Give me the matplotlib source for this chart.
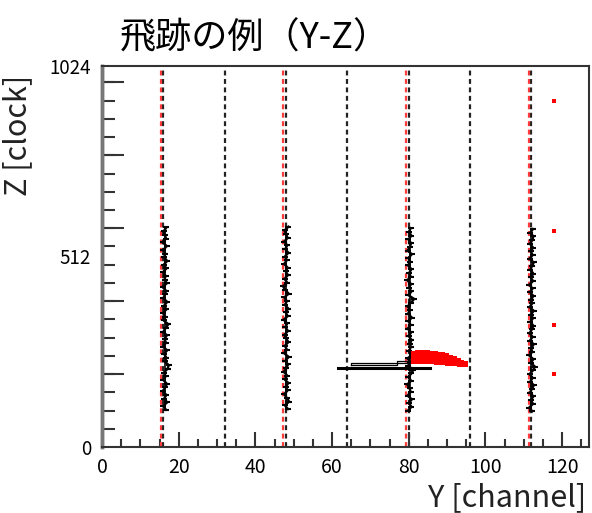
import numpy as np
import matplotlib
matplotlib.use('Agg')
from matplotlib import pyplot as plt

plt.rcParams['font.family'] = ['Noto Sans CJK JP', 'DejaVu Sans']

# wire boundaries (black) and shifted guides (red)
wire_lines = [16, 32, 48, 64, 80, 96, 112]
red_lines = [15.3, 47.3, 79.3, 111.3]

# tracks: centre channel, first clock, clock step, channel offsets
step = 10
trk1_x, trk1_z0 = 16.4, 100
trk1 = [0.3, -0.5, 0.6, -0.2, 0.4, -0.6, 0.1, 0.5, -0.4, 0.2,
        -0.3, 0.7, 1.0, 0.0, 0.4, -0.2, 0.6, -0.6, 0.3, -0.1,
        0.5, -0.4, 0.2, 0.9, -0.3, 0.1, -0.5, 0.4, -0.2, 0.6,
        -0.4, 0.0, 0.3, -0.6, 0.5, -0.1, 0.2, -0.5, 0.4, -0.3,
        0.6, -0.2, 0.1, -0.4, 0.5, -0.6, 0.3, 0.0, -0.3, 0.4]
trk2_x, trk2_z0 = 48.0, 102
trk2 = [0.5, -0.3, 0.8, 0.2, -0.5, 0.4, -0.1, 0.6, -0.4, 0.3,
        -0.6, 0.1, 0.5, -0.2, 0.7, -0.5, 0.2, -0.3, 0.6, 0.0,
        -0.4, 0.5, -0.2, 0.3, -0.6, 0.4, -0.1, 0.6, -0.3, 0.2,
        -0.5, 0.7, -0.2, -0.8, 0.3, -0.4, 0.5, -0.1, 0.4, -0.5,
        0.2, -0.3, 0.6, -0.2, 0.3, -0.5, 0.4, 0.0, -0.4, 0.6]
trk3_x, trk3_z0 = 80.2, 98
trk3 = [-0.4, 0.5, -0.2, 0.6, -0.5, 0.3, 0.0, -0.6, 0.4, -0.3,
        0.5, 1.0, -0.4, 0.2, -0.5, 0.6, -0.1, 0.3, 0.2, 0.5,
        -0.2, 0.4, -0.5, 0.3, -0.3, 0.6, -0.4, 0.1, -0.5, 0.4,
        1.2, -0.3, 0.5, -0.2, 0.4, -0.6, 0.3, -0.1, 0.5, -0.4,
        0.2, -0.3, 0.6, -0.5, 0.1, 0.4, -0.3, 0.5, -0.2, 0.3]
trk4_x, trk4_z0 = 112.0, 96
trk4 = [0.2, -0.6, 0.4, -0.2, 0.5, -0.4, 0.1, 0.6, -0.3, 0.3,
        -0.5, 0.4, 0.9, -0.2, 0.5, -0.6, 0.2, -0.1, 0.6, -0.4,
        0.3, -0.5, 0.1, 0.5, -0.3, 0.4, -0.2, 0.6, -0.5, 0.2,
        -0.1, 0.5, -0.4, 0.3, -0.6, 0.4, -0.2, 0.5, -0.3, 0.1,
        0.6, -0.5, 0.3, -0.2, 0.4, -0.4, 0.2, 0.5, -0.3, 0.4]

# horizontal hits near the third track
hit_low_x = [61.5, 85.5]
hit_low_z = [213, 213]
hit_box_x = [65.0, 77.0, 77.0, 80.5, 80.5, 77.0, 77.0, 65.0, 65.0]
hit_box_z = [220, 220, 226, 226, 231, 231, 226, 226, 220]

# red cluster (bins of one channel)
blob_ch = [81, 82, 83, 84, 85, 86, 87, 88, 89, 90, 91, 92, 93, 94, 95]
blob_top = [258, 262, 262, 261, 260, 258, 257, 256, 255, 252, 248, 244, 240, 235, 230]
blob_bot = [222, 224, 224, 223, 223, 222, 221, 220, 220, 219, 218, 217, 216, 215, 215]

# isolated red hits
dots_ch = [118, 118, 118, 118]
dots_z = [930, 580, 328, 196]

fig = plt.figure(figsize=(5.92, 5.13), dpi=100)
ax = fig.add_axes([102/592, 1-447/513, 487/592, 381/513])

for x in wire_lines:
    ax.axvline(x, color='#222222', ls=(0, (2.2, 1.6)), lw=1.6, zorder=1)
for x in red_lines:
    ax.axvline(x, color='#ff3b3b', ls=(0, (2.2, 1.6)), lw=1.6, zorder=2)

for cx, z0, offs in [(trk1_x, trk1_z0, trk1), (trk2_x, trk2_z0, trk2),
                     (trk3_x, trk3_z0, trk3), (trk4_x, trk4_z0, trk4)]:
    z = np.arange(z0, z0 + step*len(offs), step)
    xs = cx + np.array(offs)
    ax.plot(xs, z, color='black', lw=1.7, zorder=3)
    ax.plot(xs, z, ls='none', marker='_', ms=4, mew=1.5, color='black', zorder=3)
    ax.plot(np.full(len(z), cx), z, color='black', lw=1.2, zorder=3)

ax.plot(hit_low_x, hit_low_z, color='black', lw=2.2, zorder=3)
ax.plot(hit_box_x, hit_box_z, color='black', lw=0.9, zorder=3)

ax.bar(blob_ch, np.array(blob_top) - np.array(blob_bot), bottom=blob_bot,
       width=1.0, color='red', linewidth=0, zorder=4)
ax.scatter(dots_ch, dots_z, s=10, marker='s', color='red', linewidths=0, zorder=4)

ax.set_xlim(0, 127)
ax.set_ylim(0, 1024)

ax.set_xticks([0, 20, 40, 60, 80, 100, 120])
ax.set_xticks(np.arange(0, 127, 5), minor=True)
ax.set_yticks([0, 512, 1024])
ax.set_yticks([196, 392, 588, 784, 980], minor=True)
ax.tick_params(axis='x', which='major', direction='in', length=11, width=1.5,
               color='#333333', labelsize=14, pad=7)
ax.tick_params(axis='x', which='minor', direction='in', length=5.5, width=1.5,
               color='#333333')
ax.tick_params(axis='y', which='major', direction='in', length=0, labelsize=13.5, pad=8)
ax.tick_params(axis='y', which='minor', direction='in', length=16, width=1.5,
               color='#333333')
# short y ticks
sec = ax.secondary_yaxis('left')
sec.set_yticks(np.arange(49, 1024, 49))
sec.set_yticklabels([])
sec.tick_params(direction='in', length=9, width=1.5, color='#333333')
sec.spines['left'].set_color('#777777')
sec.spines['left'].set_linewidth(2.5)

for s in ['top', 'bottom', 'right']:
    ax.spines[s].set_color('#333333')
    ax.spines[s].set_linewidth(1.5)
ax.spines['left'].set_color('#777777')
ax.spines['left'].set_linewidth(2.5)

fig.text(120/592, 1-48/513, '飛跡の例（Y-Z）', fontsize=26, ha='left', va='baseline')
fig.text(586/592, 1-506/513, 'Y [channel]', fontsize=22, ha='right', va='baseline',
         color='#222222')
fig.text(18/592, 1-75/513, 'Z [clock]', fontsize=22, rotation=90, ha='center', va='top',
         color='#222222')

fig.savefig('out.png', dpi=100)
